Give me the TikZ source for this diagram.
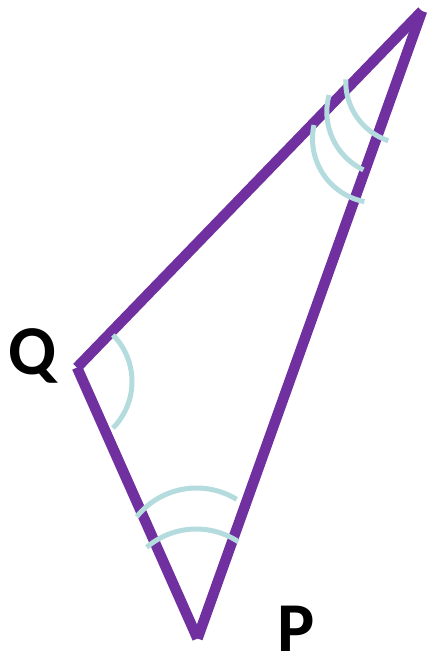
\documentclass[tikz,border=0pt]{standalone}
\usepackage{fontspec}
\setmainfont{Carlito}
\definecolor{tripurple}{RGB}{112,48,160}
\definecolor{arcblue}{RGB}{180,219,222}
\tikzset{
  side/.style={draw=tripurple, line width=10.5pt, line cap=butt},
  anglemark/.style={draw=arcblue, line width=5pt, line cap=butt},
  lbl/.style={font=\fontsize{70}{70}\selectfont\bfseries, inner sep=0pt, text=black}
}
\begin{document}
\begin{tikzpicture}[x=1pt,y=-1pt]
\useasboundingbox (0,0) rectangle (427,655);
% vertices
\coordinate (T) at (422,11);
\coordinate (Q) at (77,367.5);
\coordinate (P) at (197.5,638.5);
% sides
\draw[side] (T) -- (Q);
\draw[side] (Q) -- (P);
\draw[side] (P) -- (T);
% angle marks
\coordinate (cQ) at (65.6,381.5);
\draw[anglemark] (cQ) ++(-44.5:66.4) arc[start angle=-44.5, end angle=44.5, radius=66.4];
\coordinate (cP1) at (196.5,564.6);
\draw[anglemark] (cP1) ++(-141.3:76.6) arc[start angle=-141.3, end angle=-58.4, radius=76.6];
\coordinate (cP2) at (196.2,605.1);
\draw[anglemark] (cP2) ++(-130.6:76.1) arc[start angle=-130.6, end angle=-56.4, radius=76.1];
\coordinate (cTA) at (408.2,81.5);
\draw[anglemark] (cTA) ++(108.6:62.5) arc[start angle=108.6, end angle=182, radius=62.5];
\coordinate (cTB) at (391.2,111.8);
\draw[anglemark] (cTB) ++(115.6:64.4) arc[start angle=115.6, end angle=195.1, radius=64.4];
\coordinate (cTC) at (376.6,138.7);
\draw[anglemark] (cTC) ++(101:64.1) arc[start angle=101, end angle=192.3, radius=64.1];
% labels
\node[lbl, anchor=base] (lq) at (33,374) {Q};
\node[lbl, anchor=base] (lp) at (296,651) {P};
\end{tikzpicture}
\end{document}
